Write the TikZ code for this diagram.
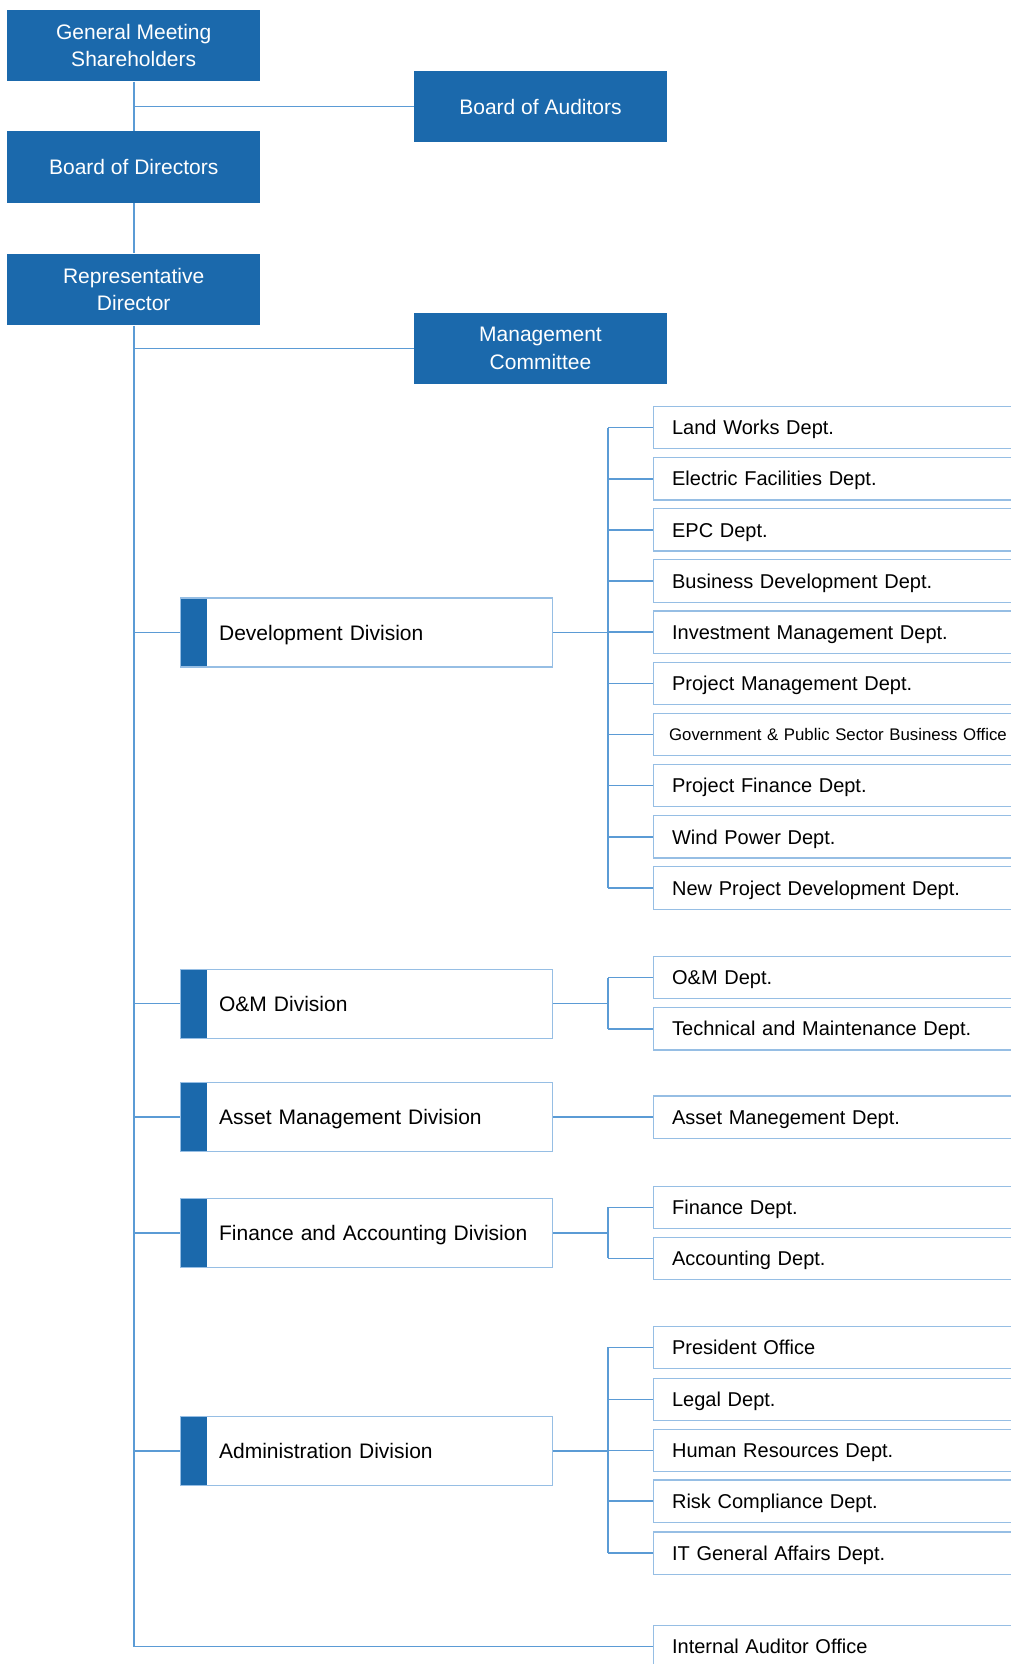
\documentclass[tikz,border=0pt]{standalone}
\usepackage{fontspec}
\setmainfont{Liberation Sans}
\definecolor{orgblue}{RGB}{27,105,172}
\definecolor{linkblue}{RGB}{91,155,213}
\definecolor{boxline}{RGB}{150,190,228}
\tikzset{
  topbox/.style={fill=orgblue, text=white, minimum width=126.3pt, minimum height=35.75pt,
    inner sep=0pt, align=center, font=\fontsize{10.5}{13.8}\selectfont},
  divbox/.style={draw=boxline, line width=0.6pt, fill=white, anchor=west, minimum height=34.5pt,
    text width=185.85pt, inner xsep=0pt, align=left, font=\fontsize{10.5}{12.6}\selectfont,
    text height=7.5pt, text depth=0pt,
    execute at begin node={\hspace*{19.25pt}},
    path picture={\fill[orgblue] (path picture bounding box.south west) rectangle ([xshift=13pt]path picture bounding box.north west);}},
  deptbox/.style={draw=boxline, line width=0.6pt, fill=white, anchor=west, minimum height=21.2pt,
    text width=180pt, inner xsep=9.5pt, align=left, font=\fontsize{10}{12}\selectfont,
    text height=7.2pt, text depth=0pt},
  link/.style={draw=linkblue, line width=0.8pt}
}
\begin{document}
\begin{tikzpicture}[x=0.5pt, y=-0.5pt]
\useasboundingbox (0,0) rectangle (1011,1664);
\clip (0,0) rectangle (1011,1664);

% top of the chart
\node[topbox] (gm) at (133.7,45.6) {General Meeting\\Shareholders};
\node[topbox] (boa) at (540.5,106.5) {Board of Auditors};
\node[topbox] (bod) at (133.7,167) {Board of Directors};
\node[topbox] (rd) at (133.7,289.6) {Representative\\Director};
\node[topbox] (mc) at (540.5,348.5) {Management\\Committee};

% divisions
\node[divbox] (dev) at (180,632.5) {Development Division};
\node[divbox] (om) at (180,1003.6) {O\&M Division};
\node[divbox] (asset) at (180,1117.2) {Asset Management Division};
\node[divbox] (fin) at (180,1233) {Finance and Accounting Division};
\node[divbox] (adm) at (180,1451) {Administration Division};

% departments
\node[deptbox] (land) at (652.5,427.5) {Land Works Dept.};
\node[deptbox] (elec) at (652.5,478.7) {Electric Facilities Dept.};
\node[deptbox] (epc) at (652.5,529.8) {EPC Dept.};
\node[deptbox] (busdev) at (652.5,581) {Business Development Dept.};
\node[deptbox] (invest) at (652.5,632.1) {Investment Management Dept.};
\node[deptbox] (projm) at (652.5,683.3) {Project Management Dept.};
\node[deptbox, inner xsep=8pt, text height=6.1pt, font=\fontsize{8.4}{10}\selectfont] (gov) at (652.5,734.5) {Government \& Public Sector Business Office};
\node[deptbox] (projf) at (652.5,785.6) {Project Finance Dept.};
\node[deptbox] (wind) at (652.5,836.8) {Wind Power Dept.};
\node[deptbox] (newp) at (652.5,887.9) {New Project Development Dept.};

\node[deptbox] (omd) at (652.5,977.5) {O\&M Dept.};
\node[deptbox] (tech) at (652.5,1028.7) {Technical and Maintenance Dept.};

\node[deptbox] (assetd) at (652.5,1117.2) {Asset Manegement Dept.};

\node[deptbox] (find) at (652.5,1207.3) {Finance Dept.};
\node[deptbox] (acc) at (652.5,1258.4) {Accounting Dept.};

\node[deptbox] (pres) at (652.5,1347.3) {President Office};
\node[deptbox] (legal) at (652.5,1399.3) {Legal Dept.};
\node[deptbox] (hr) at (652.5,1450.3) {Human Resources Dept.};
\node[deptbox] (risk) at (652.5,1501.2) {Risk Compliance Dept.};
\node[deptbox] (itga) at (652.5,1553.1) {IT General Affairs Dept.};

\node[deptbox] (ia) at (652.5,1646.5) {Internal Auditor Office};

% main line
\draw[link] (gm) -- (bod);
\draw[link] (bod) -- (rd);
\draw[link] (gm.south |- boa.west) -- (boa.west);
\draw[link] (rd.south |- mc.west) -- (mc.west);
\draw[link] (rd.south) |- (ia.west);
\foreach \d in {dev,om,asset,fin,adm}
  \draw[link] (rd.south |- \d.west) -- (\d.west);

% division to departments
\coordinate (devbus) at (608,632.5);
\draw[link] (dev.east) -- (devbus);
\draw[link] (devbus |- land.west) -- (devbus |- newp.west);
\foreach \d in {land,elec,epc,busdev,invest,projm,gov,projf,wind,newp}
  \draw[link] (devbus |- \d.west) -- (\d.west);

\coordinate (ombus) at (608,1003.6);
\draw[link] (om.east) -- (ombus);
\draw[link] (ombus |- omd.west) -- (ombus |- tech.west);
\foreach \d in {omd,tech}
  \draw[link] (ombus |- \d.west) -- (\d.west);

\draw[link] (asset.east) -- (assetd.west);

\coordinate (finbus) at (608,1233);
\draw[link] (fin.east) -- (finbus);
\draw[link] (finbus |- find.west) -- (finbus |- acc.west);
\foreach \d in {find,acc}
  \draw[link] (finbus |- \d.west) -- (\d.west);

\coordinate (admbus) at (608,1451);
\draw[link] (adm.east) -- (admbus);
\draw[link] (admbus |- pres.west) -- (admbus |- itga.west);
\foreach \d in {pres,legal,hr,risk,itga}
  \draw[link] (admbus |- \d.west) -- (\d.west);
\end{tikzpicture}
\end{document}
